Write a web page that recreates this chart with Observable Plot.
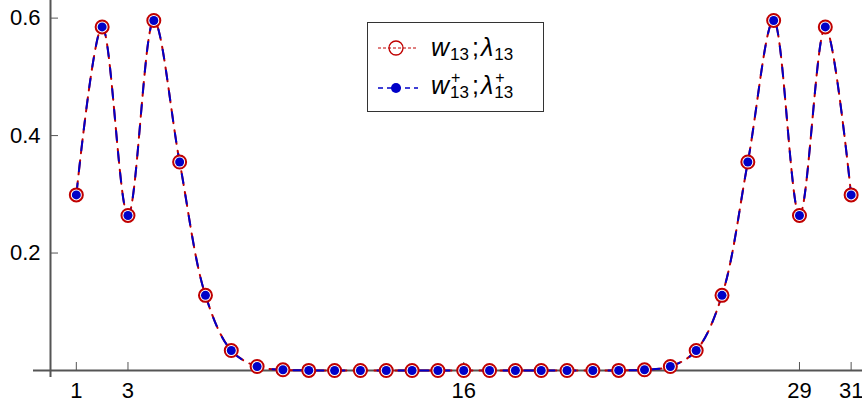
<!DOCTYPE html>
<html>
<head>
<meta charset="utf-8">
<script src="https://cdn.jsdelivr.net/npm/d3@7"></script>
<script src="https://cdn.jsdelivr.net/npm/@observablehq/plot@0.6"></script>
<style>
  html, body { margin: 0; padding: 0; background: #fff; }
  #wrap { position: relative; width: 862px; height: 406px; font-family: "Liberation Sans", Arial, sans-serif; }
  #legend {
    position: absolute; left: 367px; top: 22px; width: 175px; height: 88px;
    border: 1.5px solid #333; background: #fff;
  }
  #legend svg.sw { position: absolute; left: 8px; width: 44px; height: 20px; overflow: visible; }
  #legend .lab {
    position: absolute; left: 63px; font-size: 25px; line-height: 25px; white-space: nowrap; color: #000;
    font-family: "Liberation Sans", Arial, sans-serif;
  }
  #legend .lab i { font-style: italic; }
  #legend .sb { position: relative; top: 4px; font-size: 17px; margin-left: 1px; }
  #legend .ss { position: relative; display: inline-block; font-size: 17px; line-height: 16px; top: 4px; margin-left: 1px; }
  #legend .ss .sp { position: absolute; left: 1px; top: -13px; line-height: 12px; font-size: 16px; }
  #legend .sc { margin: 0 2px 0 3px; }
</style>
</head>
<body>
<div id="wrap"></div>
<script>
// Eigenvector components w_13 and w_13^+ at grid index 1..31
const index = [1, 2, 3, 4, 5, 6, 7, 8, 9, 10, 11, 12, 13, 14, 15, 16,
               17, 18, 19, 20, 21, 22, 23, 24, 25, 26, 27, 28, 29, 30, 31];
const w13 = [0.299, 0.585, 0.264, 0.596, 0.355, 0.128, 0.034, 0.0068, 0.0012, 0.0002,
             0, 0, 0, 0, 0, 0, 0, 0, 0, 0, 0,
             0.0002, 0.0012, 0.0068, 0.034, 0.128, 0.355, 0.596, 0.264, 0.585, 0.299];
const w13plus = [0.299, 0.585, 0.264, 0.596, 0.355, 0.128, 0.034, 0.0068, 0.0012, 0.0002,
                 0, 0, 0, 0, 0, 0, 0, 0, 0, 0, 0,
                 0.0002, 0.0012, 0.0068, 0.034, 0.128, 0.355, 0.596, 0.264, 0.585, 0.299];
const xTicks = [1, 3, 16, 29, 31];
const yTicks = [0.2, 0.4, 0.6];

const red = "#c00000";
const blue = "#0000c8";
const axisGray = "#555";

const rowsA = index.map((k, i) => ({k, v: w13[i]}));
const rowsB = index.map((k, i) => ({k, v: w13plus[i]}));

const chart = Plot.plot({
  width: 862,
  height: 406,
  marginLeft: 50,
  marginRight: 0,
  marginTop: 0,
  marginBottom: 36,
  x: {domain: [0, 31.44]},
  y: {domain: [0, 0.63]},
  style: {fontFamily: "'Liberation Sans', Arial, sans-serif", fontSize: "22px", color: "#000", background: "#fff"},
  marks: [
    // axis lines crossing at the origin
    Plot.ruleY([0], {stroke: axisGray, strokeWidth: 2, insetLeft: -17}),
    Plot.ruleX([0], {stroke: axisGray, strokeWidth: 2, insetBottom: -7}),
    // inward tick marks
    Plot.axisX(xTicks, {tickSize: -8, stroke: axisGray, fill: "none", label: null}),
    Plot.axisY(yTicks, {tickSize: -8, stroke: axisGray, fill: "none", label: null}),
    // tick labels
    Plot.axisX(xTicks, {tickSize: 0, tickPadding: 12, fill: "#000", fontSize: 22, label: null}),
    Plot.axisY(yTicks, {tickSize: 0, tickPadding: 10, fill: "#000", fontSize: 22, label: null, tickFormat: d3.format(".1f")}),
    // curves
    Plot.line(rowsA, {x: "k", y: "v", curve: "catmull-rom", stroke: red, strokeWidth: 2, strokeDasharray: "14,7"}),
    Plot.line(rowsB, {x: "k", y: "v", curve: "catmull-rom", stroke: blue, strokeWidth: 2, strokeDasharray: "9,12", strokeDashoffset: -3}),
    // markers
    Plot.dot(rowsA, {x: "k", y: "v", r: 6.5, stroke: red, strokeWidth: 2, fill: "#fff"}),
    Plot.dot(rowsB, {x: "k", y: "v", r: 4.5, fill: blue, stroke: "none"})
  ]
});

const wrap = document.getElementById("wrap");
wrap.appendChild(chart);

const legend = document.createElement("div");
legend.id = "legend";
legend.innerHTML = `
  <svg class="sw" style="top:15px" viewBox="0 0 44 20">
    <line x1="2" y1="10" x2="42" y2="10" stroke="${red}" stroke-width="1" stroke-dasharray="3,2"/>
    <circle cx="20" cy="10" r="7" fill="none" stroke="${red}" stroke-width="1.3"/>
  </svg>
  <div class="lab" style="top:12px"><i>w</i><span class="sb">13</span><span class="sc">;</span><i>λ</i><span class="sb">13</span></div>
  <svg class="sw" style="top:55px" viewBox="0 0 44 20">
    <line x1="2" y1="10" x2="42" y2="10" stroke="${blue}" stroke-width="1.6" stroke-dasharray="5,4"/>
    <circle cx="20" cy="10" r="5" fill="${blue}"/>
  </svg>
  <div class="lab" style="top:50px"><i>w</i><span class="ss">13<span class="sp">+</span></span><span class="sc">;</span><i>λ</i><span class="ss">13<span class="sp">+</span></span></div>
`;
wrap.appendChild(legend);
</script>
</body>
</html>
